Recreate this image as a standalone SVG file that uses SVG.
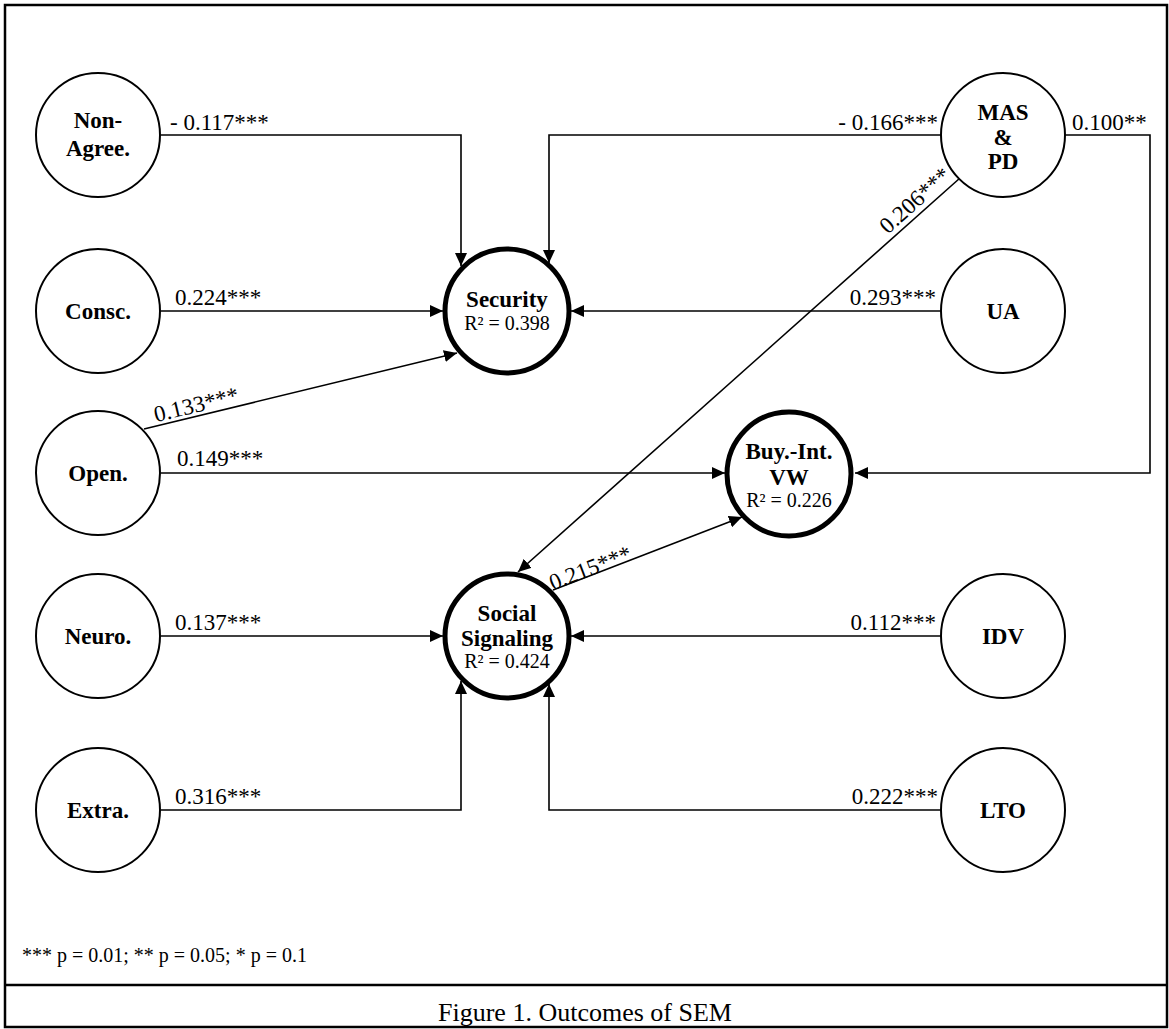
<svg xmlns="http://www.w3.org/2000/svg" width="1169" height="1029" viewBox="0 0 1169 1029">
<defs>
<marker id="ah" markerUnits="userSpaceOnUse" markerWidth="14" markerHeight="12" refX="13" refY="6" orient="auto">
<path d="M0,0 L13,6 L0,12 Z" fill="#000"/>
</marker>
<style>
.thin{fill:#fff;stroke:#000;stroke-width:2}
.thick{fill:#fff;stroke:#000;stroke-width:5}
.lbl{font-family:"Liberation Serif","Times New Roman",serif;font-weight:bold;font-size:23px;text-anchor:middle;fill:#000}
.r2{font-family:"Liberation Serif","Times New Roman",serif;font-size:20px;text-anchor:middle;fill:#000}
.coef{font-family:"Liberation Serif","Times New Roman",serif;font-size:23px;fill:#000}
.edge{fill:none;stroke:#000;stroke-width:1.6;marker-end:url(#ah)}
</style>
</defs>
<rect x="0" y="0" width="1169" height="1029" fill="#fff"/>
<rect x="5" y="5" width="1162" height="1022" fill="none" stroke="#000" stroke-width="2.5"/>
<line x1="5" y1="985" x2="1167" y2="985" stroke="#000" stroke-width="2.5"/>

<g id="connectors">
<path class="edge" d="M161,135 H461 V266"/>
<path class="edge" d="M941,135 H549 V263"/>
<path class="edge" d="M161,311 H443"/>
<path class="edge" d="M941,311 H571"/>
<path class="edge" d="M144,429 L457,353"/>
<path class="edge" d="M161,473 H725"/>
<path class="edge" d="M1065,135 H1150 V473 H855"/>
<path class="edge" d="M960,178 L518,572"/>
<path class="edge" d="M553,590 L742,517"/>
<path class="edge" d="M161,636 H443"/>
<path class="edge" d="M941,636 H571"/>
<path class="edge" d="M161,810 H461 V681"/>
<path class="edge" d="M941,810 H549 V684"/>
</g>

<g id="coefficients">
<text class="coef" x="170" y="130">- 0.117***</text>
<text class="coef" x="175" y="305">0.224***</text>
<text class="coef" x="177" y="466">0.149***</text>
<text class="coef" x="175" y="630">0.137***</text>
<text class="coef" x="175" y="804">0.316***</text>
<text class="coef" x="938" y="130" text-anchor="end">- 0.166***</text>
<text class="coef" x="1072" y="130">0.100**</text>
<text class="coef" x="936" y="305" text-anchor="end">0.293***</text>
<text class="coef" x="936" y="630" text-anchor="end">0.112***</text>
<text class="coef" x="938" y="804" text-anchor="end">0.222***</text>
<text class="coef" text-anchor="middle" transform="translate(198,412) rotate(-13.6)">0.133***</text>
<text class="coef" text-anchor="middle" transform="translate(920,206) rotate(-41.7)">0.206***</text>
<text class="coef" text-anchor="middle" transform="translate(593,575) rotate(-21)">0.215***</text>
</g>

<g id="node-nonagree"><circle class="thin" cx="98" cy="135" r="62"/><text class="lbl" x="98" y="128">Non-</text><text class="lbl" x="98" y="156">Agree.</text></g>
<g id="node-consc"><circle class="thin" cx="98" cy="311" r="62"/><text class="lbl" x="98" y="319">Consc.</text></g>
<g id="node-open"><circle class="thin" cx="98" cy="473" r="62"/><text class="lbl" x="98" y="481">Open.</text></g>
<g id="node-neuro"><circle class="thin" cx="98" cy="636" r="62"/><text class="lbl" x="98" y="644">Neuro.</text></g>
<g id="node-extra"><circle class="thin" cx="98" cy="810" r="62"/><text class="lbl" x="98" y="818">Extra.</text></g>

<g id="node-maspd"><circle class="thin" cx="1003" cy="135" r="62"/><text class="lbl" x="1003" y="120">MAS</text><text class="lbl" x="1003" y="145">&amp;</text><text class="lbl" x="1003" y="169">PD</text></g>
<g id="node-ua"><circle class="thin" cx="1003" cy="311" r="62"/><text class="lbl" x="1003" y="319">UA</text></g>
<g id="node-idv"><circle class="thin" cx="1003" cy="636" r="62"/><text class="lbl" x="1003" y="644">IDV</text></g>
<g id="node-lto"><circle class="thin" cx="1003" cy="810" r="62"/><text class="lbl" x="1003" y="818">LTO</text></g>

<g id="node-security"><circle class="thick" cx="507" cy="311" r="62"/><text class="lbl" x="507" y="307">Security</text><text class="r2" x="507" y="330">R² = 0.398</text></g>
<g id="node-buy"><circle class="thick" cx="789" cy="474" r="62"/><text class="lbl" x="789" y="459">Buy.-Int.</text><text class="lbl" x="789" y="485">VW</text><text class="r2" x="789" y="507">R² = 0.226</text></g>
<g id="node-social"><circle class="thick" cx="507" cy="636" r="62"/><text class="lbl" x="507" y="621">Social</text><text class="lbl" x="507" y="646">Signaling</text><text class="r2" x="507" y="668">R² = 0.424</text></g>

<text x="22" y="962" font-family="Liberation Serif, Times New Roman, serif" font-size="20">*** p = 0.01; ** p = 0.05; * p = 0.1</text>
<text x="585" y="1021" text-anchor="middle" font-family="Liberation Serif, Times New Roman, serif" font-size="26">Figure 1. Outcomes of SEM</text>
</svg>
